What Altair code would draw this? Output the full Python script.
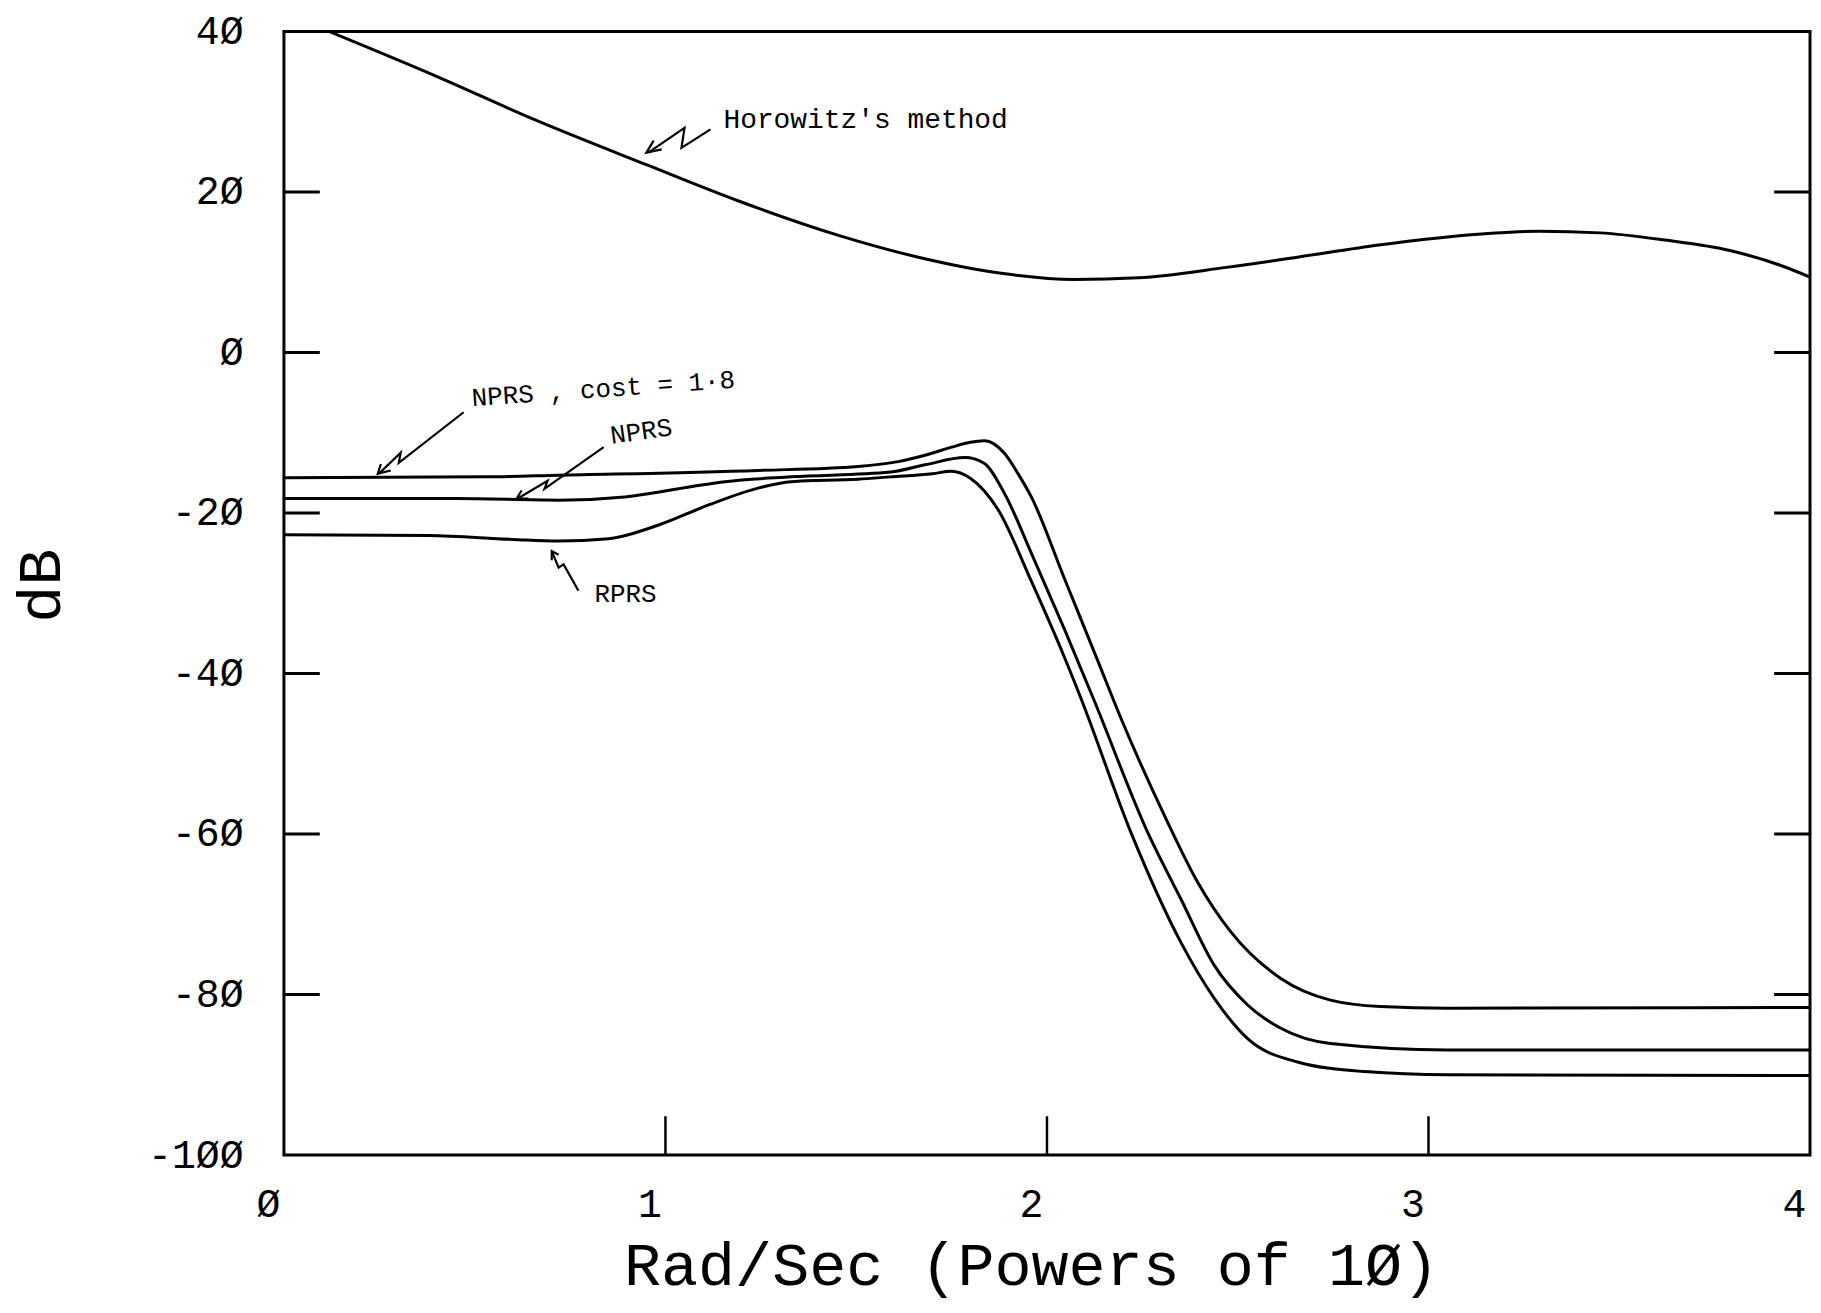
import altair as alt
import pandas as pd

# ---------------- data ----------------
x_horowitz = [0.118, 0.4, 0.657, 0.955, 1.19, 1.46, 1.66, 1.89, 2.07, 2.24, 2.47, 2.66,
              2.87, 3.05, 3.29, 3.45, 3.62, 3.79, 3.92, 4.0]
db_horowitz = [40.0, 34.4, 29.0, 23.3, 18.9, 14.5, 11.9, 9.8, 9.1, 9.3, 10.6, 11.9,
               13.4, 14.4, 15.1, 14.9, 14.0, 12.7, 10.9, 9.4]

x_nprs18 = [0.0, 0.53, 0.72, 1.243, 1.505, 1.61, 1.68, 1.75, 1.784, 1.837, 1.889, 1.924, 1.959,
            2.046, 2.133, 2.195, 2.308, 2.395, 2.482, 2.613, 2.743, 2.874, 3.05, 4.0]
db_nprs18 = [-15.6, -15.5, -15.3, -14.7, -14.2, -13.6, -12.8, -11.8, -11.35, -11.0, -12.6, -15.1, -18.0,
             -28.2, -38.4, -45.7, -57.7, -66.0, -72.2, -78.0, -80.7, -81.5, -81.7, -81.6]

x_nprs = [0.0, 0.45, 0.72, 0.894, 1.07, 1.156, 1.33, 1.59, 1.68, 1.785, 1.835, 1.889, 1.959,
          2.046, 2.124, 2.264, 2.351, 2.439, 2.526, 2.613, 2.743, 3.05, 4.0]
db_nprs = [-18.2, -18.2, -18.4, -18.0, -16.7, -16.1, -15.5, -14.9, -14.0, -13.1, -13.8, -17.6, -25.0,
           -34.5, -43.4, -59.8, -68.1, -76.4, -81.3, -84.2, -86.1, -86.9, -86.9]

x_rprs = [0.0, 0.38, 0.60, 0.72, 0.851, 0.982, 1.113, 1.243, 1.33, 1.505, 1.59, 1.70, 1.749,
          1.80, 1.872, 1.959, 2.046, 2.09, 2.22, 2.351, 2.439, 2.526, 2.657, 2.832, 3.05, 4.0]
db_rprs = [-22.7, -22.8, -23.3, -23.5, -23.2, -21.5, -19.0, -16.9, -16.1, -15.8, -15.5, -15.1, -14.8,
           -15.7, -19.6, -28.5, -38.0, -43.2, -59.8, -73.5, -80.5, -85.5, -88.4, -89.6, -90.0, -90.1]

y_ticks = [-100, -80, -60, -40, -20, 0, 20, 40]
x_ticks = [0, 1, 2, 3, 4]
inner_y_ticks = [-80, -60, -40, -20, 0, 20]
inner_x_ticks = [1, 2, 3]

x_title = "Rad/Sec (Powers of 1Ø)"
y_title = "dB"

# hand-written annotations (data coordinates)
ann_text = ["NPRS , cost = 1·8", "NPRS", "RPRS"]
ann_x = [0.492, 0.856, 0.814]
ann_y = [-5.7, -10.4, -30.1]
ann_angle = [356, 352, 0]
horowitz_text = ["Horowitz's method"]
horowitz_x = [1.152]
horowitz_y = [29.0]

arrow_paths = {
    "horowitz": ([1.118, 1.042, 1.050, 0.955], [27.8, 25.5, 28.0, 24.9]),
    "horowitz_head": ([0.969, 0.950, 0.990], [26.4, 24.9, 25.3]),
    "nprs18": ([0.471, 0.301, 0.306, 0.249], [-7.45, -13.75, -12.5, -15.1]),
    "nprs18_head": ([0.254, 0.246, 0.280], [-13.9, -15.1, -14.7]),
    "nprs": ([0.838, 0.683, 0.691, 0.613], [-11.8, -17.0, -16.0, -18.2]),
    "nprs_head": ([0.623, 0.610, 0.641], [-17.2, -18.2, -18.2]),
    "rprs": ([0.772, 0.733, 0.720, 0.702], [-29.7, -26.4, -26.8, -24.75]),
    "rprs_head": ([0.702, 0.702, 0.720], [-25.9, -24.75, -25.2]),
}

# ---------------- tables ----------------
rows = []
for name, xs, ys in [("Horowitz", x_horowitz, db_horowitz),
                     ("NPRS cost 1.8", x_nprs18, db_nprs18),
                     ("NPRS", x_nprs, db_nprs),
                     ("RPRS", x_rprs, db_rprs)]:
    for i, (a, b) in enumerate(zip(xs, ys)):
        rows.append({"series": name, "x": a, "y": b, "ord": i})
curves = pd.DataFrame(rows)

arows = []
for name, (xs, ys) in arrow_paths.items():
    for i, (a, b) in enumerate(zip(xs, ys)):
        arows.append({"path": name, "x": a, "y": b, "ord": i})
arrows = pd.DataFrame(arows)

ann = pd.DataFrame({"text": ann_text, "x": ann_x, "y": ann_y, "angle": ann_angle})
hann = pd.DataFrame({"text": horowitz_text, "x": horowitz_x, "y": horowitz_y})
yt = pd.DataFrame({"y": inner_y_ticks})
xt = pd.DataFrame({"x": inner_x_ticks})

W, H = 1532, 1128
FONT = "Liberation Mono"

xscale = alt.Scale(domain=[0, 4], nice=False, zero=False)
yscale = alt.Scale(domain=[-100, 40], nice=False, zero=False)

x_axis = alt.Axis(values=x_ticks, ticks=False, domain=False, grid=False,
                  labelFont=FONT, labelFontSize=40, labelPadding=30, labelOffset=-16,
                  labelFlush=False, labelOverlap=False, labelColor="black",
                  labelExpr="replace(toString(datum.value), regexp('0', 'g'), 'Ø')",
                  title=x_title, titleFont=FONT, titleFontSize=62, titleFontWeight="normal",
                  titleColor="black", titleX=750, titleY=130, titleAlign="center",
                  titleBaseline="alphabetic")
y_axis = alt.Axis(values=y_ticks, ticks=False, domain=False, grid=False,
                  labelFont=FONT, labelFontSize=40, labelPadding=41, labelColor="black",
                  labelFlush=False, labelOverlap=False,
                  labelExpr="replace(toString(datum.value), regexp('0', 'g'), 'Ø')",
                  title=y_title, titleFont=FONT, titleFontSize=62, titleFontWeight="normal",
                  titleColor="black", titleAngle=270, titleX=-244, titleY=556,
                  titleAlign="center", titleBaseline="middle")

X = alt.X("x:Q", scale=xscale, axis=x_axis)
Y = alt.Y("y:Q", scale=yscale, axis=y_axis)

lines = alt.Chart(curves).mark_line(color="black", strokeWidth=3, interpolate="monotone",
                                    clip=True).encode(
    x=X, y=Y, detail="series:N", order="ord:Q")

left_ticks = alt.Chart(yt).mark_rule(color="black", strokeWidth=3).encode(
    y=Y, x=alt.value(0), x2=alt.value(36))
right_ticks = alt.Chart(yt).mark_rule(color="black", strokeWidth=3).encode(
    y=Y, x=alt.value(W - 36), x2=alt.value(W))
bottom_ticks = alt.Chart(xt).mark_rule(color="black", strokeWidth=2.5).encode(
    x=X, y=alt.value(H - 39), y2=alt.value(H))

arrow_lines = alt.Chart(arrows).mark_line(color="black", strokeWidth=2.2).encode(
    x=X, y=Y, detail="path:N", order="ord:Q")

labels = alt.Chart(ann).mark_text(font=FONT, fontSize=26, align="left", baseline="middle",
                                  color="black").encode(
    x=X, y=Y, text="text:N", angle=alt.Angle("angle:Q", scale=None))

h_label = alt.Chart(hann).mark_text(font=FONT, fontSize=28, align="left", baseline="middle",
                                    color="black").encode(
    x=X, y=Y, text="text:N")

chart = alt.layer(lines, left_ticks, right_ticks, bottom_ticks, arrow_lines, labels,
                  h_label).properties(
    width=W, height=H,
    padding={"left": 277, "top": 21, "right": 3, "bottom": 147},
    autosize=alt.AutoSizeParams(type="none"),
    background="white",
).configure_view(stroke="black", strokeWidth=3)

chart.save("out.html", embed_options={"renderer": "svg", "actions": False})
